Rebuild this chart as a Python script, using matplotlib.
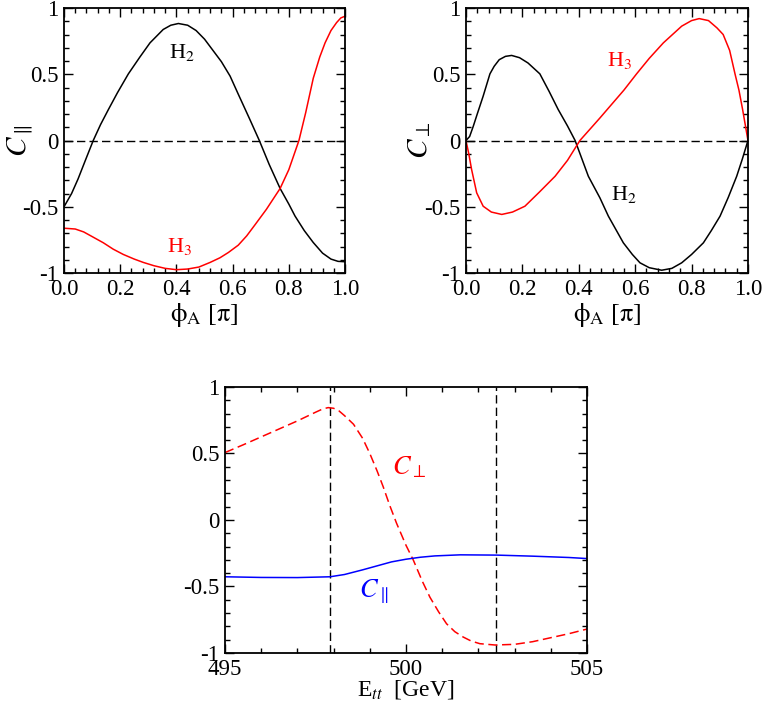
"""
Spin correlations C_par / C_perp for H2 and H3 versus phi_A, and near threshold versus E_tt.
"""

import matplotlib
matplotlib.use("Agg")
import matplotlib.pyplot as plt
from matplotlib.ticker import MultipleLocator

plt.rcParams["font.family"] = "serif"
plt.rcParams["font.serif"] = ["Liberation Serif", "DejaVu Serif"]
plt.rcParams["mathtext.fontset"] = "stix"
plt.rcParams["axes.unicode_minus"] = False

# ---- top left: C_par vs phi_A ----
phi_h2_par = [0.0, 0.027, 0.05, 0.075, 0.104, 0.13, 0.158, 0.19, 0.229, 0.27, 0.306, 0.353, 0.38,
              0.407, 0.44, 0.47, 0.5, 0.53, 0.56, 0.591, 0.62, 0.66, 0.695, 0.73, 0.769, 0.8,
              0.822, 0.855, 0.887, 0.92, 0.95, 0.975, 1.0]
c_h2_par = [-0.50, -0.40, -0.29, -0.155, 0.0, 0.12, 0.234, 0.36, 0.503, 0.63, 0.737, 0.838, 0.87,
            0.883, 0.87, 0.83, 0.765, 0.68, 0.595, 0.486, 0.35, 0.165, 0.0, -0.18, -0.362, -0.48,
            -0.57, -0.68, -0.77, -0.85, -0.895, -0.912, -0.915]

phi_h3_par = [0.0, 0.04, 0.07, 0.10, 0.14, 0.175, 0.211, 0.25, 0.282, 0.32, 0.36, 0.40, 0.44, 0.48,
              0.52, 0.555, 0.585, 0.62, 0.65, 0.68, 0.72, 0.769, 0.80, 0.836, 0.86, 0.887, 0.91,
              0.929, 0.95, 0.97, 0.985, 1.0]
c_h3_par = [-0.662, -0.668, -0.69, -0.725, -0.772, -0.82, -0.86, -0.895, -0.92, -0.945, -0.965,
            -0.975, -0.97, -0.955, -0.92, -0.885, -0.845, -0.79, -0.72, -0.635, -0.52, -0.362,
            -0.22, 0.0, 0.21, 0.47, 0.63, 0.737, 0.83, 0.89, 0.925, 0.938]

# ---- top right: C_perp vs phi_A ----
phi_h2_perp = [0.0, 0.013, 0.026, 0.04, 0.061, 0.085, 0.10, 0.118, 0.14, 0.162, 0.19, 0.22, 0.262,
               0.295, 0.327, 0.36, 0.387, 0.434, 0.475, 0.505, 0.558, 0.59, 0.617, 0.65, 0.694,
               0.73, 0.765, 0.80, 0.842, 0.87, 0.901, 0.93, 0.96, 0.98, 1.0]
c_h2_perp = [0.0, 0.03, 0.108, 0.2, 0.335, 0.503, 0.56, 0.61, 0.635, 0.642, 0.625, 0.585, 0.503,
             0.37, 0.234, 0.11, 0.0, -0.27, -0.433, -0.571, -0.772, -0.86, -0.923, -0.96, -0.979,
             -0.965, -0.923, -0.86, -0.772, -0.68, -0.571, -0.43, -0.27, -0.14, 0.0]

phi_h3_perp = [0.0, 0.01, 0.02, 0.038, 0.061, 0.09, 0.127, 0.165, 0.209, 0.26, 0.316, 0.36, 0.404,
               0.45, 0.475, 0.511, 0.56, 0.605, 0.65, 0.70, 0.765, 0.80, 0.827, 0.86, 0.89, 0.912,
               0.935, 0.954, 0.968, 0.981, 1.0]
c_h3_perp = [0.0, -0.1, -0.219, -0.395, -0.496, -0.54, -0.558, -0.54, -0.496, -0.39, -0.27, -0.15,
             0.0, 0.11, 0.17, 0.259, 0.38, 0.503, 0.62, 0.737, 0.863, 0.905, 0.92, 0.905, 0.85,
             0.80, 0.68, 0.503, 0.38, 0.234, 0.0]

# ---- bottom: C vs E_tt ----
e_perp = [495.0, 495.5, 496.0, 496.5, 497.0, 497.5, 497.7, 497.85, 498.0, 498.15, 498.3, 498.55,
          498.8, 499.0, 499.2, 499.37, 499.55, 499.74, 500.0, 500.2, 500.45, 500.66, 500.9,
          501.12, 501.35, 501.58, 501.8, 502.04, 502.46, 503.0, 503.5, 504.0, 504.5, 505.0]
c_perp_e = [0.507, 0.565, 0.625, 0.685, 0.745, 0.81, 0.835, 0.845, 0.84, 0.82, 0.785, 0.72, 0.615,
            0.50, 0.37, 0.25, 0.11, -0.025, -0.19, -0.30, -0.46, -0.58, -0.69, -0.78, -0.84,
            -0.88, -0.91, -0.93, -0.94, -0.935, -0.915, -0.885, -0.855, -0.82]

e_par = [495.0, 496.0, 497.0, 497.9, 498.3, 498.8, 499.2, 499.6, 500.0, 500.4, 500.8, 501.5,
         502.5, 503.5, 504.5, 505.0]
c_par_e = [-0.427, -0.432, -0.433, -0.427, -0.41, -0.375, -0.345, -0.315, -0.295, -0.28, -0.27,
           -0.262, -0.264, -0.272, -0.282, -0.29]

e_marks = [497.9, 502.5]

y_ticks = [-1, -0.5, 0, 0.5, 1]
y_ticklabels = ["-1", "-0.5", "0", "0.5", "1"]
phi_ticks = [0.0, 0.2, 0.4, 0.6, 0.8, 1.0]
e_ticks = [495, 500, 505]

DASH = (0, (6, 3))
TICK_FS = 16.5


def style_axes(ax):
    for sp in ax.spines.values():
        sp.set_linewidth(1.3)
    ax.tick_params(which="both", direction="in", top=True, right=True, width=1.0,
                   labelsize=TICK_FS)
    ax.tick_params(which="major", length=6.5, pad=4)
    ax.tick_params(which="minor", length=3.5)
    ax.set_ylim(-1, 1)
    ax.set_yticks(y_ticks)
    ax.set_yticklabels(y_ticklabels)
    ax.yaxis.set_minor_locator(MultipleLocator(0.1))


def phi_panel(ax, ylabel):
    style_axes(ax)
    ax.set_xlim(0, 1)
    ax.set_xticks(phi_ticks)
    ax.set_xticklabels([f"{t:.1f}" for t in phi_ticks])
    ax.xaxis.set_minor_locator(MultipleLocator(0.04))
    ax.axhline(0, color="black", lw=1.0, linestyle=DASH)
    ax.set_xlabel(r"$\mathrm{\phi}_\mathrm{A}$ [$\mathrm{\pi}$]", fontsize=19)
    ax.xaxis.set_label_coords(0.5, -0.105)
    ax.set_ylabel(ylabel, fontsize=21)


fig = plt.figure(figsize=(7.63, 7.08), dpi=100)

ax1 = fig.add_axes([0.0839, 0.6144, 0.3683, 0.3743])
phi_panel(ax1, r"$C_{\parallel}$")
ax1.yaxis.set_label_coords(-0.105, 0.5)
ax1.plot(phi_h2_par, c_h2_par, color="black", lw=1.1)
ax1.plot(phi_h3_par, c_h3_par, color="#ff0000", lw=1.1)
ax1.text(0.375, 0.62, r"H$_2$", fontsize=16, color="black")
ax1.text(0.365, -0.84, r"H$_3$", fontsize=16, color="#ff0000")

ax2 = fig.add_axes([0.6107, 0.6144, 0.3696, 0.3743])
phi_panel(ax2, r"$C_{\perp}$")
ax2.yaxis.set_label_coords(-0.115, 0.5)
ax2.plot(phi_h2_perp, c_h2_perp, color="black", lw=1.1)
ax2.plot(phi_h3_perp, c_h3_perp, color="#ff0000", lw=1.1)
ax2.text(0.515, -0.45, r"H$_2$", fontsize=16, color="black")
ax2.text(0.50, 0.56, r"H$_3$", fontsize=16, color="#ff0000")

ax3 = fig.add_axes([0.2949, 0.0777, 0.4744, 0.3757])
style_axes(ax3)
ax3.set_xlim(495, 505)
ax3.set_xticks(e_ticks)
ax3.xaxis.set_minor_locator(MultipleLocator(1))
for e in e_marks:
    ax3.axvline(e, color="black", lw=1.0, linestyle=DASH)
ax3.plot(e_perp, c_perp_e, color="#ff0000", lw=1.1, linestyle=DASH)
ax3.plot(e_par, c_par_e, color="#0000ff", lw=1.1)
ax3.text(499.62, 0.34, r"$C_{\perp}$", fontsize=19, color="#ff0000")
ax3.text(498.7, -0.58, r"$C_{\parallel}$", fontsize=19, color="#0000ff")
ax3.set_xlabel(r"E$_{tt}$  [GeV]", fontsize=17)
ax3.xaxis.set_label_coords(0.5, -0.095)

fig.savefig("out.png", dpi=100)
